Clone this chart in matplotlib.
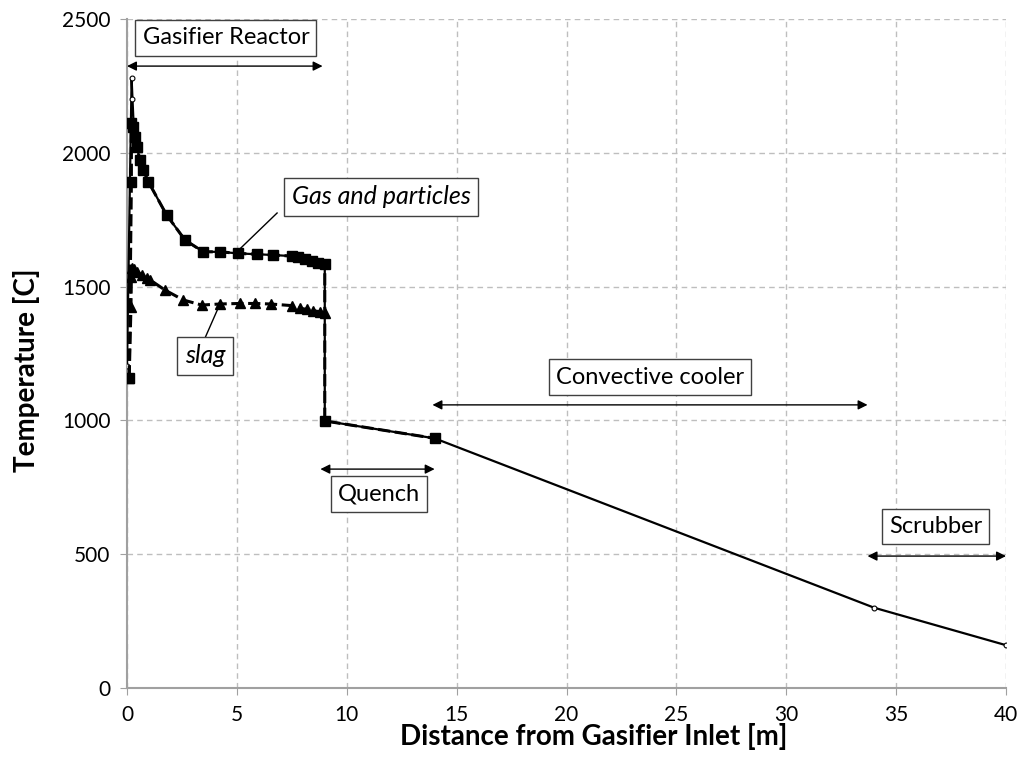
import matplotlib
matplotlib.use("Agg")
import matplotlib.pyplot as plt

# Overall temperature profile (solid thin line, small circle markers)
main_x = [0.0, 0.21, 0.25, 0.3, 0.35, 0.44, 0.59, 0.74, 0.97, 1.8, 2.64, 3.47, 4.23, 5.07,
          5.9, 6.66, 7.49, 7.8, 8.1, 8.4, 8.71, 9.0, 9.0, 14.0, 34.0, 40.0]
main_y = [1205, 2278, 2200, 2110, 2073, 2023, 1973, 1936, 1892, 1768, 1674, 1630, 1630, 1624,
          1621, 1618, 1614, 1609, 1602, 1597, 1589, 1584, 998, 933, 300, 160]

# Gas and particles (squares, dashed)
gas_x = [0.1, 0.2, 0.2, 0.28, 0.35, 0.44, 0.59, 0.74, 0.97, 1.8, 2.64, 3.47, 4.23, 5.07,
         5.9, 6.66, 7.49, 7.8, 8.1, 8.4, 8.71, 9.0, 9.0, 14.0]
gas_y = [1160, 1892, 2110, 2095, 2060, 2023, 1973, 1936, 1892, 1768, 1674, 1630, 1630, 1624,
         1621, 1618, 1614, 1609, 1602, 1597, 1589, 1584, 998, 933]

# Slag (triangles, dashed)
slag_x = [0.1, 0.18, 0.2, 0.22, 0.3, 0.44, 0.67, 0.9, 1.05, 1.73, 2.56, 3.4, 4.23, 5.14,
          5.82, 6.54, 7.49, 7.87, 8.18, 8.48, 8.78, 9.0]
slag_y = [1160, 1425, 1537, 1568, 1565, 1556, 1543, 1531, 1525, 1487, 1450, 1431, 1435, 1437,
          1437, 1435, 1429, 1419, 1415, 1410, 1406, 1402]

x_ticks = [0, 5, 10, 15, 20, 25, 30, 35, 40]
y_ticks = [0, 500, 1000, 1500, 2000, 2500]

plt.rcParams['font.family'] = ['Lato', 'DejaVu Sans']

fig = plt.figure(figsize=(10.21, 7.76), dpi=100)
ax = fig.add_axes([127/1021, 1-688/776, (1006-127)/1021, (688-19)/776])

ax.plot(main_x, main_y, color='black', lw=1.6, marker='o', ms=3.5,
        mfc='white', mec='black', mew=0.8, zorder=3)
ax.plot(gas_x, gas_y, color='black', lw=2.2, ls=(0, (4, 1.5)), marker='s', ms=7,
        mfc='black', mec='black', zorder=4)
ax.plot(slag_x, slag_y, color='black', lw=2.2, ls=(0, (4, 1.5)), marker='^', ms=7.5,
        mfc='black', mec='black', zorder=4)

ax.set_xlim(0, 40)
ax.set_ylim(0, 2500)
ax.set_xticks(x_ticks)
ax.set_yticks(y_ticks)
ax.tick_params(labelsize=15, direction='out', length=5, color='#A0A0A0', pad=7)
ax.grid(True, color='#BEBEBE', ls=(0, (4, 3)), lw=1.0)
ax.set_axisbelow(True)
for s in ['top', 'right']:
    ax.spines[s].set_visible(False)
for s in ['left', 'bottom']:
    ax.spines[s].set_color('#A0A0A0')
    ax.spines[s].set_linewidth(1.5)

ax.set_xlabel('Distance from Gasifier Inlet [m]', fontsize=20, fontweight='bold')
ax.set_ylabel('Temperature [C]', fontsize=20, fontweight='bold')
ax.xaxis.set_label_coords(0.531, -0.052)
ax.yaxis.set_label_coords(-0.099, 0.475)

box = dict(boxstyle='square,pad=0.3', fc='white', ec='#404040', lw=1.0)

def label(x, y, s, italic=False, size=17):
    ax.text(x, y, s, ha='center', va='center', fontsize=size,
            style='italic' if italic else 'normal', bbox=box, zorder=6)

def darrow(x0, x1, y):
    ax.annotate('', xy=(x1, y), xytext=(x0, y),
                arrowprops=dict(arrowstyle='<|-|>', color='black', lw=1.0,
                                mutation_scale=14, shrinkA=0, shrinkB=0), zorder=5)

label(4.5, 2429, 'Gasifier Reactor')
darrow(0.0, 8.9, 2324)
label(11.56, 1835, 'Gas and particles', italic=True, size=18)
ax.plot([5.0, 6.83], [1630, 1775], color='black', lw=1.0, zorder=5)
label(3.55, 1241, 'slag', italic=True, size=18)
ax.plot([4.23, 3.55], [1435, 1308], color='black', lw=1.0, zorder=5)
label(23.8, 1162, 'Convective cooler')
darrow(13.9, 33.7, 1058)
label(11.47, 725, 'Quench')
darrow(8.8, 14.0, 818)
label(36.8, 605, 'Scrubber')
darrow(33.7, 40.0, 493)

fig.savefig('out.png', dpi=100)
